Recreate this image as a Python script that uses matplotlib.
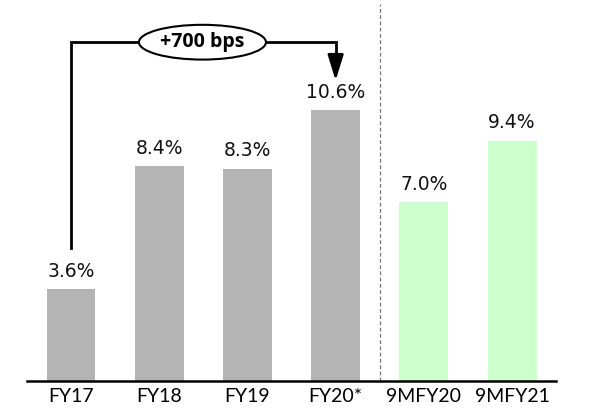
import matplotlib.pyplot as plt
from matplotlib.patches import Ellipse

categories = ["FY17", "FY18", "FY19", "FY20*", "9MFY20", "9MFY21"]
values = [3.6, 8.4, 8.3, 10.6, 7.0, 9.4]
colors = ["#b4b4b4"] * 4 + ["#ccffcc"] * 2
labels = ["%.1f%%" % v for v in values]
bracket_text = "+700 bps"

fig = plt.figure(figsize=(5.98, 4.11), dpi=100)
ax = fig.add_axes([0.045, 0.073, 0.885, 0.927])

x = list(range(len(categories)))
bars = ax.bar(x, values, width=0.555, color=colors)
for b, lab in zip(bars, labels):
    ax.annotate(lab, (b.get_x() + b.get_width() / 2, b.get_height()),
                xytext=(0, 6), textcoords="offset points",
                ha="center", va="bottom", fontsize=13.5, color="#111111")

ax.set_xlim(-0.5, 5.5)
ax.set_ylim(0, 14.9)

# divider between full years and nine-month figures
ax.plot([3.5, 3.5], [0, 14.75], ls=(0, (3, 2)), color="#777777", lw=0.9)

# bracket FY17 -> FY20*
top = max(values[:4]) + 2.65
ax.plot([0, 0, 3, 3], [values[0] + 1.6, top, top, top - 0.4],
        color="black", lw=2, solid_joinstyle="miter")
ax.annotate("", xy=(3, values[3] + 1.15), xytext=(3, top - 0.45),
            arrowprops=dict(arrowstyle="-|>,head_width=0.48,head_length=1.55",
                            color="black", lw=2, shrinkA=0, shrinkB=0))
ax.add_patch(Ellipse((1.49, top), 1.44, 1.36, facecolor="white",
                     edgecolor="black", lw=1.5, zorder=3))
ax.text(1.49, top, bracket_text, ha="center", va="center",
        fontsize=14, fontweight="bold", family="Open Sans", zorder=4)

ax.set_xticks(x)
ax.set_xticklabels(categories, fontsize=14, family="Lato")
ax.tick_params(axis="x", length=0, pad=5)
ax.set_yticks([])
for s in ["top", "right", "left"]:
    ax.spines[s].set_visible(False)
ax.spines["bottom"].set_linewidth(1.8)

fig.savefig("out.png", dpi=100)
